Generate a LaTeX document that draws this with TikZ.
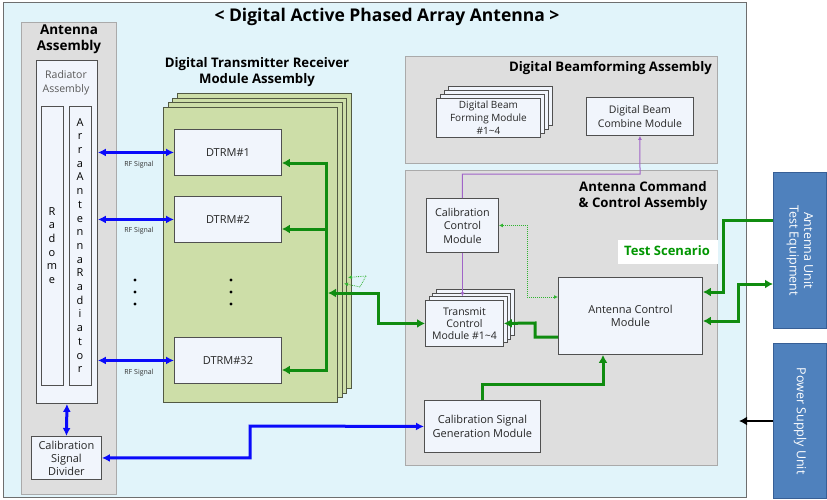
\documentclass[tikz,border=0pt]{standalone}
\usepackage{fontspec}
\setmainfont{Open Sans}
\usetikzlibrary{arrows.meta,calc}
\definecolor{outerbg}{RGB}{225,244,250}
\definecolor{outerdraw}{RGB}{110,110,110}
\definecolor{greyfill}{RGB}{222,222,222}
\definecolor{greydraw}{RGB}{170,170,170}
\definecolor{modfill}{RGB}{241,245,252}
\definecolor{moddraw}{RGB}{80,80,80}
\definecolor{olive}{RGB}{205,222,168}
\definecolor{gcol}{RGB}{16,140,16}
\definecolor{bcol}{RGB}{10,10,250}
\definecolor{pcol}{RGB}{160,100,200}
\definecolor{tscol}{RGB}{0,150,0}
\definecolor{steel}{RGB}{79,129,189}
\definecolor{steeldraw}{RGB}{55,95,150}
\definecolor{dotg}{RGB}{50,180,50}
\newcommand\ftitle{\fontsize{17.5}{20}\selectfont\bfseries}
\newcommand\fhead{\fontsize{13.2}{16}\selectfont\bfseries}
\newcommand\fmod{\fontsize{10.5}{13.5}\selectfont}
\newcommand\ftiny{\fontsize{7}{8}\selectfont}
\begin{document}
\begin{tikzpicture}[x=1pt,y=-1pt,
  rbox/.style={draw=#1, inner sep=0pt, anchor=north west, align=center},
  greybox/.style={rbox=greydraw, fill=greyfill, line width=1pt},
  modbox/.style={rbox=moddraw, fill=modfill, line width=0.9pt, font=\fmod, text=black!85},
  olivebox/.style={rbox=olive!40!black, fill=olive, line width=0.9pt},
  extbox/.style={rbox=steeldraw, fill=steel, line width=1pt},
  headtxt/.style={font=\fhead, align=center, inner sep=0pt},
  gline/.style={draw=gcol, line width=3pt},
  garrow/.style={gline, -{Latex[length=8pt,width=9pt]}},
  garrowboth/.style={gline, {Latex[length=8pt,width=9pt]}-{Latex[length=8pt,width=9pt]}},
  barrow/.style={draw=bcol, line width=3pt, {Latex[length=8pt,width=8pt]}-{Latex[length=8pt,width=8pt]}},
  parrow/.style={draw=pcol, line width=1pt, -{Latex[length=4pt,width=4pt]}},
  darrow/.style={draw=dotg, line width=1pt, densely dotted, {Latex[length=4pt,width=4pt]}-{Latex[length=4pt,width=4pt]}},
  smalldot/.style={draw=dotg, line width=0.8pt, densely dotted, -{Latex[length=4pt,width=4pt]}},
  rflabel/.style={font=\ftiny, inner sep=0pt, text=black!80}
]
\useasboundingbox (0,0) rectangle (827,500);
% outer
\node[rbox=outerdraw, fill=outerbg, line width=1pt, minimum width=743, minimum height=495] (outer) at (3,2) {};
\node[font=\ftitle, inner sep=0pt] (title) at (387,17) {< Digital Active Phased Array Antenna >};

% antenna assembly
\node[greybox, minimum width=95, minimum height=472] (antasm) at (21,22) {};
\node[headtxt, font=\fontsize{13.5}{16}\selectfont\bfseries] (antasmT) at (69,39) {Antenna\\Assembly};
\node[rbox=moddraw, fill=modfill, line width=0.9pt, minimum width=61, minimum height=343] (radasm) at (36,60) {};
\node[font=\fmod, text=black!65, align=center, inner sep=0pt] (radasmT) at (66,83) {Radiator\\Assembly};
\node[rbox=moddraw, fill=modfill, line width=0.9pt, minimum width=22, minimum height=279] (radome) at (41,106) {};
\node[rbox=moddraw, fill=modfill, line width=0.9pt, minimum width=22, minimum height=279] (arrrad) at (69,106) {};
\node[font=\fontsize{11}{13.6}\selectfont, align=center, inner sep=0pt] (radomeT) at (52,245.5) {R\\a\\d\\o\\m\\e};
\node[font=\fontsize{11}{13.7}\selectfont, align=center, inner sep=0pt] (arrradT) at (80,245.5) {A\\r\\r\\a\\A\\n\\t\\e\\n\\n\\a\\R\\a\\d\\i\\a\\t\\o\\r};
\node[modbox, minimum width=70, minimum height=43, font=\fontsize{11}{13}\selectfont] (csd) at (31,436) {Calibration\\Signal\\Divider};

% DTRM assembly
\node[headtxt] (dtrmT) at (257,72) {Digital Transmitter Receiver\\Module Assembly};
\foreach \k in {3,2,1}
  \node[olivebox, minimum width=174, minimum height=295] (dtrmL\k) at ({163+4.7*\k},{107-4.7*\k}) {};
\node[olivebox, minimum width=174, minimum height=295] (dtrmF) at (163,107) {};
\node[modbox, minimum width=107, minimum height=46, font=\fontsize{11}{13}\selectfont] (d1) at (174,129) {DTRM\#1};
\node[modbox, minimum width=107, minimum height=46, font=\fontsize{11}{13}\selectfont] (d2) at (174,196) {DTRM\#2};
\node[modbox, minimum width=107, minimum height=46, font=\fontsize{11}{13}\selectfont] (d32) at (174,337) {DTRM\#32};
\foreach \yy in {280,292,304} {
  \fill (231,\yy) circle (1.7);
  \fill (135,\yy) circle (1.7);
}

% RF arrows
\draw[barrow] (radasm.east |- d1.west) -- (d1.west);
\draw[barrow] (radasm.east |- d2.west) -- (d2.west);
\draw[barrow] (radasm.east |- d32.west) -- (d32.west);
\node[rflabel] (rf1) at (139,165) {RF Signal};
\node[rflabel] (rf2) at (139,231) {RF Signal};
\node[rflabel] (rf3) at (139,373) {RF Signal};

% green bus
\coordinate (b1) at (326,163);
\coordinate (b2) at (326,229);
\coordinate (b32) at (326,370);
\coordinate (bi) at (328,293);
\draw[gline] ($(b1)+(0,-1.5)$) -- ($(b32)+(0,1.5)$);
\draw[garrow] (b1) -- (b1 -| d1.east);
\draw[garrow] (b2) -- (b2 -| d2.east);
\draw[garrow] (b32) -- (b32 -| d32.east);
\coordinate (sd1) at (366,276);
\coordinate (sd1e) at (348,277.5);
\coordinate (sd2) at (360,287);
\coordinate (sd2e) at (344,283.5);
\draw[smalldot] (sd1) -- (sd1e);
\draw[smalldot] (sd2) -- (sd2e);
\draw[draw=dotg, line width=0.8pt, densely dotted] (sd1) -- (sd2);

% Digital Beamforming Assembly
\node[greybox, minimum width=312, minimum height=107] (dba) at (405,56) {};
\node[headtxt, anchor=east] (dbaT) at (712,68) {Digital Beamforming Assembly};
\foreach \k in {3,2,1}
  \node[modbox, minimum width=104, minimum height=39] (dbfL\k) at ({436+4*\k},{98-4*\k}) {};
\node[modbox, minimum width=104, minimum height=39, font=\fontsize{10}{12.8}\selectfont] (dbf) at (436,98) {Digital Beam\\Forming Module\\\#1\textasciitilde4};
\node[modbox, minimum width=107, minimum height=38] (dbc) at (586,97) {Digital Beam\\Combine Module};

% Antenna Command & Control Assembly
\node[greybox, minimum width=312, minimum height=295] (acca) at (405,170) {};
\node[headtxt, font=\fontsize{13.2}{16.5}\selectfont\bfseries] (accaT) at (643,196) {Antenna Command\\\& Control Assembly};
\node[modbox, minimum width=72, minimum height=54, font=\fontsize{10.8}{13.5}\selectfont] (ccm) at (426,198) {Calibration\\Control\\Module};
\foreach \k in {3,2,1}
  \node[modbox, minimum width=78, minimum height=46] (tcmL\k) at ({425+3.7*\k},{300-3.7*\k}) {};
\node[modbox, minimum width=78, minimum height=46, font=\fontsize{10.5}{12}\selectfont] (tcm) at (425,300) {Transmit\\Control\\Module \#1\textasciitilde4};
\node[modbox, minimum width=144, minimum height=77, font=\fontsize{11}{13.5}\selectfont] (acm) at (558,277) {Antenna Control\\Module};
\node[modbox, minimum width=116, minimum height=52, font=\fontsize{11}{13.5}\selectfont] (csgm) at (424,400) {Calibration Signal\\Generation Module};
\node[rbox=white, fill=white, minimum width=99, minimum height=23] (tsbox) at (618,240) {};
\node[font=\fontsize{13}{15}\selectfont\bfseries, text=tscol, inner sep=0pt] (tsT) at (667,251) {Test Scenario};

% external units
\node[extbox, minimum width=53, minimum height=156] (aute) at (773,172) {};
\node[rotate=-90, text=white, font=\fontsize{12.5}{14.5}\selectfont, align=center, inner sep=0pt] (auteT) at (aute.center) {Antenna Unit\\Test Equipment};
\node[extbox, minimum width=53, minimum height=155] (psu) at (773,343) {};
\node[rotate=-90, text=white, font=\fontsize{12.5}{14.5}\selectfont, inner sep=0pt] (psuT) at (psu.center) {Power Supply Unit};

% connectors
\coordinate (tcmk) at (378,293);
\draw[garrowboth] (tcm.west) -| (tcmk) -- (bi);
\coordinate (pk) at (640,174);
\draw[parrow] (ccm.north) |- (pk) -- (dbc.south);
\draw[parrow] (ccm.south) -- (ccm.south |- tcmL1.north);
\coordinate (dk) at (527,297);
\draw[darrow] (ccm.east) -| (dk) -- (dk -| acm.west);
\coordinate (ak) at (535,323);
\draw[garrow] (acm.west |- 0,337) -| (ak) -- (tcm.east);
\coordinate (ck) at (603,384);
\draw[garrow] (csgm.north) |- (ck) -- (ck |- acm.south);
\coordinate (tu) at (aute.west |- 0,220);
\coordinate (tuk) at (723,220);
\draw[garrow] (tu) -- (tuk) |- (acm.east |- 0,292);
\coordinate (tl) at (aute.west |- 0,284);
\coordinate (tlk) at (738,284);
\draw[garrowboth] (acm.east |- 0,321) -| (tlk) -- (tl);
\coordinate (bk) at (250,426);
\draw[barrow] (csd.east) -| (bk) -- (csgm.west);
\draw[barrow] (radasm.south) -- (csd.north);
\coordinate (pe) at (739,421);
\draw[line width=2.5pt, -{Latex[length=8pt,width=9pt]}] (psu.west) -- (pe);
\end{tikzpicture}
\end{document}
